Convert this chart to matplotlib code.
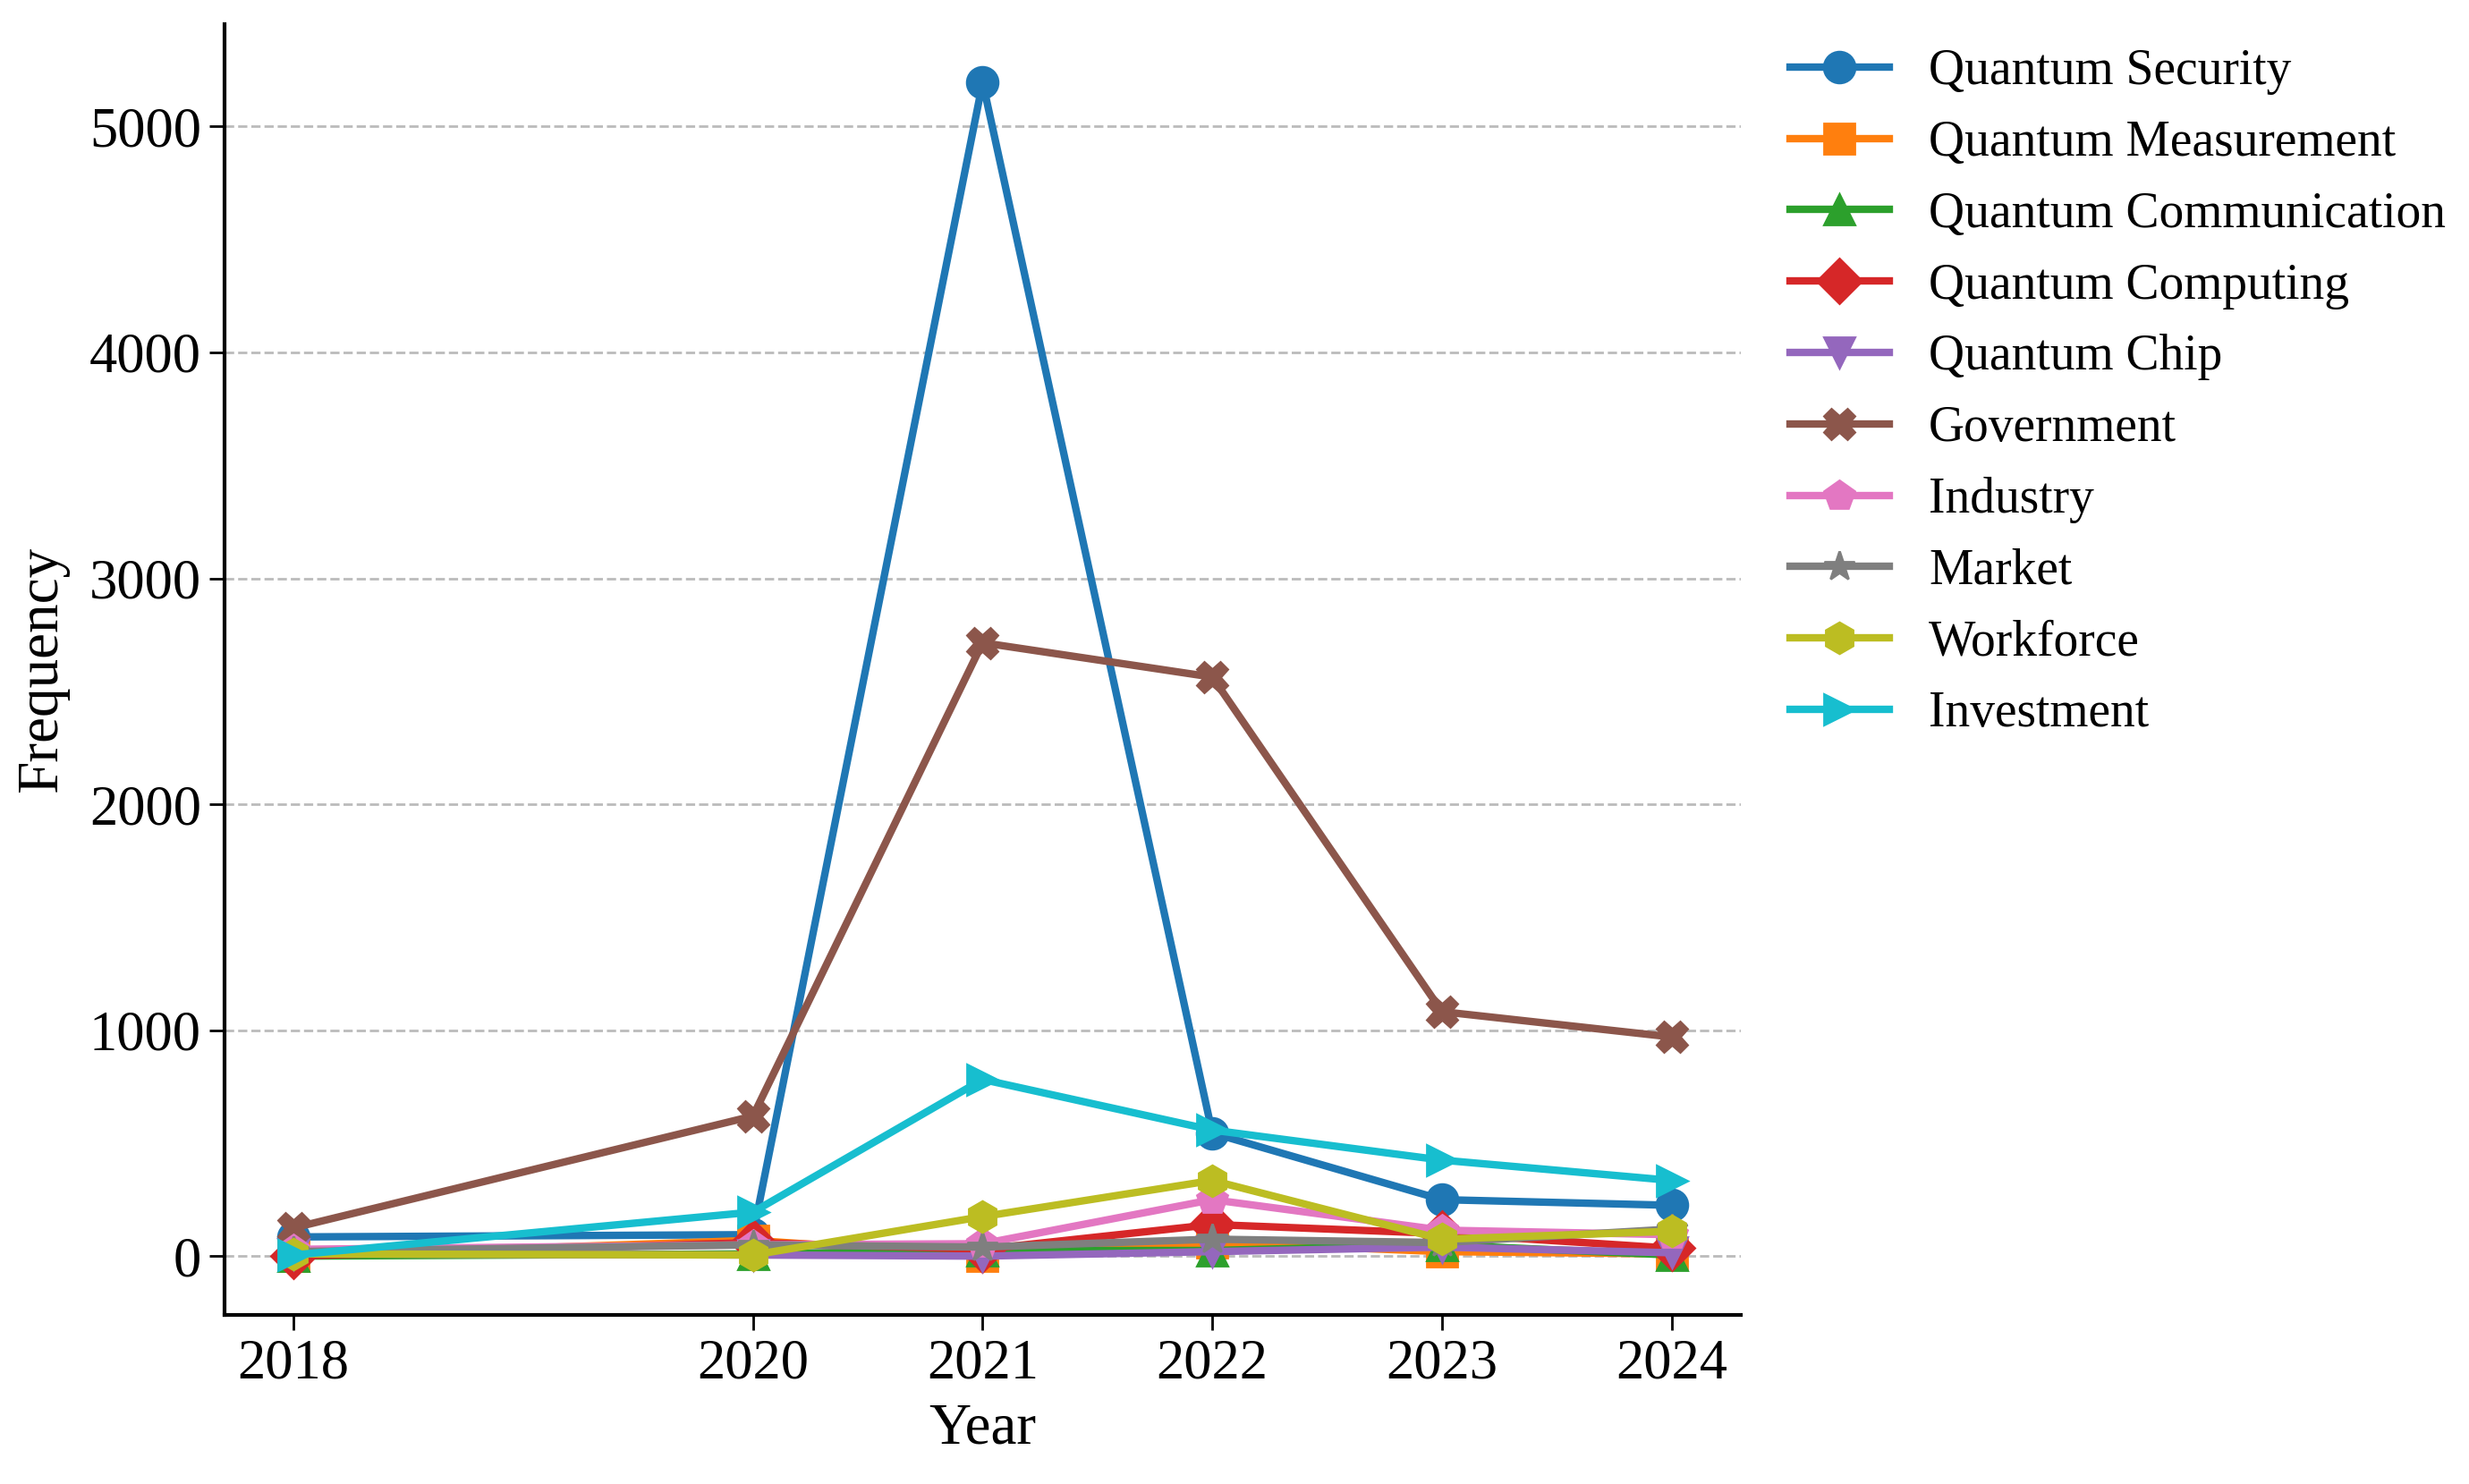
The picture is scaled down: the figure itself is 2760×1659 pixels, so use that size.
import matplotlib
matplotlib.use("Agg")
import matplotlib.pyplot as plt

plt.rcParams['font.family'] = ['Liberation Serif', 'DejaVu Serif']

years = [2018, 2020, 2021, 2022, 2023, 2024]

quantum_security = [85, 95, 5195, 545, 250, 225]
quantum_measurement = [0, 70, 0, 60, 20, 10]
quantum_communication = [0, 10, 25, 25, 50, 5]
quantum_computing = [0, 60, 30, 140, 100, 35]
quantum_chip = [10, 5, 0, 20, 40, 15]
government = [125, 620, 2715, 2563, 1082, 970]
industry = [30, 50, 55, 250, 115, 95]
market = [20, 50, 40, 75, 60, 120]
workforce = [10, 5, 175, 335, 75, 110]
investment = [5, 195, 782, 558, 425, 335]

series_names = ["Quantum Security", "Quantum Measurement", "Quantum Communication",
                "Quantum Computing", "Quantum Chip", "Government", "Industry",
                "Market", "Workforce", "Investment"]
series_values = [quantum_security, quantum_measurement, quantum_communication,
                 quantum_computing, quantum_chip, government, industry,
                 market, workforce, investment]
markers = ['o', 's', '^', 'D', 'v', 'X', 'p', '*', 'h', '>']
colors = ['#1f77b4', '#ff7f0e', '#2ca02c', '#d62728', '#9467bd',
          '#8c564b', '#e377c2', '#7f7f7f', '#bcbd22', '#17becf']

fig = plt.figure(figsize=(13.8, 8.295), dpi=200)
ax = fig.add_axes([0.091, 0.114, 0.614, 0.87])

for name, vals, m, c in zip(series_names, series_values, markers, colors):
    ax.plot(years, vals, marker=m, color=c, label=name, linewidth=3, markersize=12.5)

ax.set_xticks(years)
ax.set_xticklabels([str(y) for y in years])
ax.tick_params(axis='both', labelsize=22.5, length=6, width=1)
ax.set_xlabel("Year", fontsize=23.5, labelpad=5)
ax.set_ylabel("Frequency", fontsize=23.5, labelpad=8)
ax.grid(axis='y', linestyle='--', color='#bbbbbb', linewidth=1)
ax.set_axisbelow(True)
ax.spines['top'].set_visible(False)
ax.spines['right'].set_visible(False)
ax.spines['left'].set_linewidth(1.5)
ax.spines['bottom'].set_linewidth(1.5)

ax.legend(loc='upper left', bbox_to_anchor=(1.016, 1.0), frameon=False, fontsize=20,
          handlelength=2.0, handletextpad=0.8, labelspacing=0.5, borderaxespad=0.1)

fig.savefig("out.png", dpi=200)
